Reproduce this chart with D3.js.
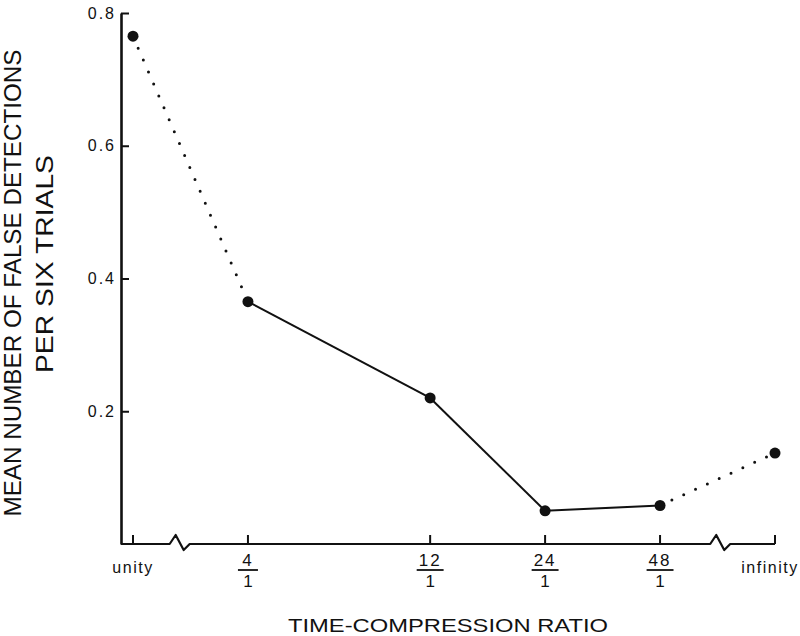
<!DOCTYPE html>
<html>
<head>
<meta charset="utf-8">
<script src="https://cdn.jsdelivr.net/npm/d3@7"></script>
<style>
  body { margin: 0; background: #fff; }
  text { font-family: "Liberation Sans", Arial, sans-serif; fill: #111; }
</style>
</head>
<body>
<script>
// Data
const ratioLabels = ['unity', '4/1', '12/1', '24/1', '48/1', 'infinity']
// unity and infinity sit beyond the axis breaks; 2 and 96 stand in for them
const plotRatio = [2, 4, 12, 24, 48, 96]
const falseDetections = [0.765, 0.365, 0.22, 0.05, 0.058, 0.137]
// line style of each segment between neighbouring points
const segmentStyle = ['dotted', 'solid', 'solid', 'solid', 'dotted']
const yTicks = [0.2, 0.4, 0.6, 0.8]
const axisBreaks = [2.65, 69]

const width = 800,
      height = 636,
      axisX = 121

const svg = d3.select('body')
  .append('svg')
  .attr('width', width)
  .attr('height', height)

const x = d3.scaleLog().base(2)
  .domain([2, 96])
  .range([133, 775])

const y = d3.scaleLinear()
  .domain([0, 0.8])
  .range([544, 13])

const y0 = y(0)

// Y axis, ticks pointing into the plot
const yAxis = d3.axisLeft(y)
  .tickValues(yTicks)
  .tickSizeInner(-8)
  .tickSizeOuter(0)
  .tickPadding(5)
  .tickFormat(d3.format('.1f'))

const gy = svg.append('g')
  .attr('transform', `translate(${axisX},0)`)
  .call(yAxis)
gy.select('.domain').attr('stroke', '#111').attr('stroke-width', 2.6)
gy.selectAll('.tick line').attr('stroke', '#111').attr('stroke-width', 2)
gy.selectAll('.tick text')
  .style('font-size', '16px')
  .style('letter-spacing', '2px')
  .attr('fill', '#111')

// X axis with break marks
let pts = [[axisX, y0]]
axisBreaks.forEach(b => {
  const bx = x(b)
  pts.push([bx - 10, y0], [bx - 4, y0 - 9], [bx + 4, y0 + 6], [bx + 10, y0])
})
pts.push([x(96), y0])

svg.append('path')
  .attr('d', d3.line()(pts))
  .attr('fill', 'none')
  .attr('stroke', '#111')
  .attr('stroke-width', 2.2)
  .attr('stroke-linejoin', 'round')

svg.selectAll('.xtick')
  .data(plotRatio)
  .enter()
  .append('line')
  .attr('class', 'xtick')
  .attr('x1', d => x(d))
  .attr('x2', d => x(d))
  .attr('y1', y0)
  .attr('y2', y0 - 9)
  .attr('stroke', '#111')
  .attr('stroke-width', 2)

// X tick labels: words or stacked fractions
ratioLabels.forEach((lab, i) => {
  const cx = x(plotRatio[i])
  const parts = lab.split('/')
  if (parts.length === 1) {
    svg.append('text')
      .attr('x', lab === 'infinity' ? cx - 5 : cx)
      .attr('y', 573)
      .attr('text-anchor', 'middle')
      .style('font-size', '16px')
      .style('letter-spacing', '1.5px')
      .text(lab)
  } else {
    const num = svg.append('text')
      .attr('x', cx)
      .attr('y', 566)
      .attr('text-anchor', 'middle')
      .style('font-size', '17px')
      .style('letter-spacing', '2px')
      .text(parts[0])
    const w = Math.max(num.node().getComputedTextLength() + 4, 20)
    svg.append('line')
      .attr('x1', cx - w / 2)
      .attr('x2', cx + w / 2)
      .attr('y1', 570)
      .attr('y2', 570)
      .attr('stroke', '#111')
      .attr('stroke-width', 1.8)
    svg.append('text')
      .attr('x', cx)
      .attr('y', 587)
      .attr('text-anchor', 'middle')
      .style('font-size', '17px')
      .text(parts[1])
  }
})

// Data line segments
const points = plotRatio.map((r, i) => [x(r), y(falseDetections[i])])

segmentStyle.forEach((s, i) => {
  const seg = svg.append('line')
    .attr('x1', points[i][0])
    .attr('y1', points[i][1])
    .attr('x2', points[i + 1][0])
    .attr('y2', points[i + 1][1])
    .attr('stroke', '#111')
  if (s === 'dotted') {
    seg.attr('stroke-width', 3)
      .attr('stroke-linecap', 'round')
      .attr('stroke-dasharray', '0 13')
  } else {
    seg.attr('stroke-width', 2)
  }
})

svg.selectAll('.pt')
  .data(points)
  .enter()
  .append('circle')
  .attr('class', 'pt')
  .attr('cx', d => d[0])
  .attr('cy', d => d[1])
  .attr('r', 5.5)
  .attr('fill', '#111')

// Axis titles
svg.append('text')
  .attr('transform', 'translate(21,283) rotate(-90)')
  .attr('text-anchor', 'middle')
  .attr('textLength', 467)
  .attr('lengthAdjust', 'spacingAndGlyphs')
  .style('font-size', '23px')
  .text('MEAN NUMBER OF FALSE DETECTIONS')

svg.append('text')
  .attr('transform', 'translate(53,264) rotate(-90)')
  .attr('text-anchor', 'middle')
  .attr('textLength', 218)
  .attr('lengthAdjust', 'spacingAndGlyphs')
  .style('font-size', '23px')
  .text('PER SIX TRIALS')

svg.append('text')
  .attr('x', 448)
  .attr('y', 632)
  .attr('text-anchor', 'middle')
  .attr('textLength', 320)
  .attr('lengthAdjust', 'spacingAndGlyphs')
  .style('font-size', '18px')
  .text('TIME-COMPRESSION RATIO')
</script>
</body>
</html>
